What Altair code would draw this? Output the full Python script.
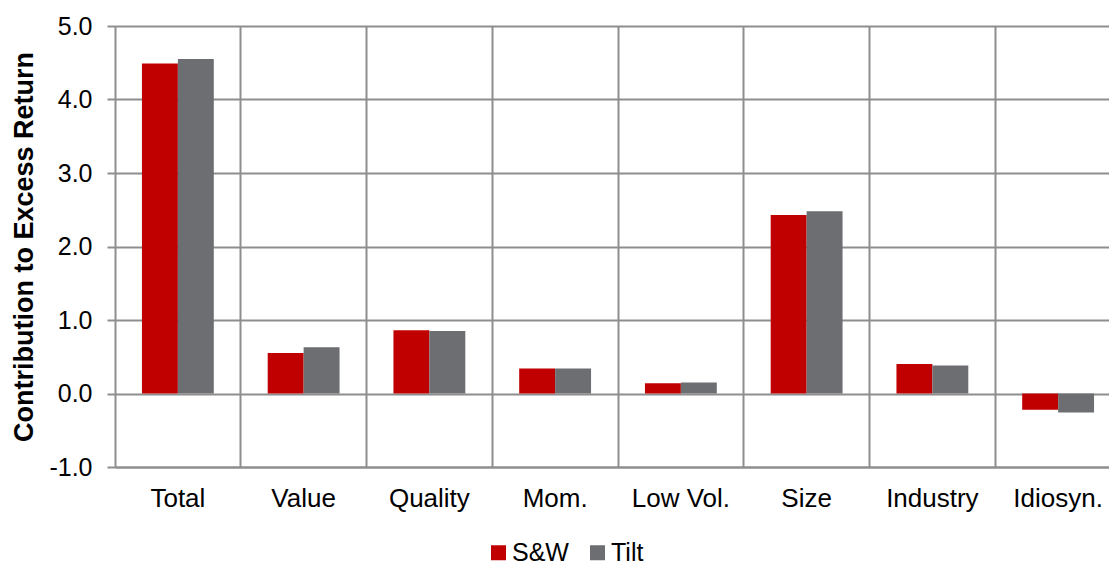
import altair as alt
import pandas as pd

# Factor contributions to excess return, two portfolios
categories = ["Total", "Value", "Quality", "Mom.", "Low Vol.", "Size", "Industry", "Idiosyn."]
sw_values = [4.49, 0.55, 0.86, 0.34, 0.14, 2.43, 0.40, -0.22]
tilt_values = [4.55, 0.63, 0.85, 0.34, 0.15, 2.48, 0.38, -0.26]
series_names = ["S&W", "Tilt"]
series_colors = ["#C00000", "#6C6E71"]
y_ticks = [-1, 0, 1, 2, 3, 4, 5]

rows = []
for cat, a, b in zip(categories, sw_values, tilt_values):
    rows.append({"Factor": cat, "Series": series_names[0], "Value": a})
    rows.append({"Factor": cat, "Series": series_names[1], "Value": b})
df = pd.DataFrame(rows)

FONT = "Liberation Sans"
GRID = "#8E8E8E"

chart = (
    alt.Chart(df)
    .mark_bar()
    .encode(
        x=alt.X(
            "Factor:N",
            sort=categories,
            scale=alt.Scale(range=[0, 1006], paddingInner=0, paddingOuter=0),
            axis=alt.Axis(
                title=None,
                labelAngle=0,
                labelFontSize=26,
                labelFont=FONT,
                labelColor="#000000",
                labelPadding=18,
                ticks=False,
                domain=True,
                domainColor=GRID,
                domainWidth=2,
                grid=True,
                gridColor=GRID,
                gridWidth=2,
                bandPosition=0,
            ),
        ),
        xOffset=alt.XOffset(
            "Series:N",
            sort=series_names,
            scale=alt.Scale(paddingInner=0, paddingOuter=0.75),
        ),
        y=alt.Y(
            "Value:Q",
            scale=alt.Scale(domain=[-1, 5], nice=False, zero=False),
            axis=alt.Axis(
                title="Contribution to Excess Return",
                titleFont=FONT,
                titleFontSize=27,
                titleFontWeight="bold",
                titleColor="#000000",
                titlePadding=10,
                values=y_ticks,
                labelExpr="(datum.value < 0 ? '-' : '') + format(abs(datum.value), '.1f')",
                labelFont=FONT,
                labelFontSize=25,
                labelColor="#000000",
                labelPadding=15,
                tickSize=8,
                tickColor=GRID,
                tickWidth=2,
                domain=False,
                grid=True,
                gridColor=GRID,
                gridWidth=2,
            ),
        ),
        color=alt.Color(
            "Series:N",
            sort=series_names,
            scale=alt.Scale(domain=series_names, range=series_colors),
            legend=alt.Legend(
                title=None,
                orient="none",
                direction="horizontal",
                legendX=371,
                legendY=514,
                symbolType="square",
                symbolSize=225,
                symbolStrokeWidth=0,
                symbolOpacity=1,
                labelFont=FONT,
                labelFontSize=25,
                labelColor="#000000",
                labelOffset=1,
                columnPadding=16,
                padding=0,
            ),
        ),
    )
    .properties(
        width=994,
        height=441,
        autosize=alt.AutoSizeParams(type="none"),
        padding={"left": 115, "top": 26, "right": 0, "bottom": 95},
    )
    .configure_view(stroke=None)
    .configure(background="#FFFFFF")
)

chart.save("out.html", embed_options={"renderer": "svg", "actions": False})
